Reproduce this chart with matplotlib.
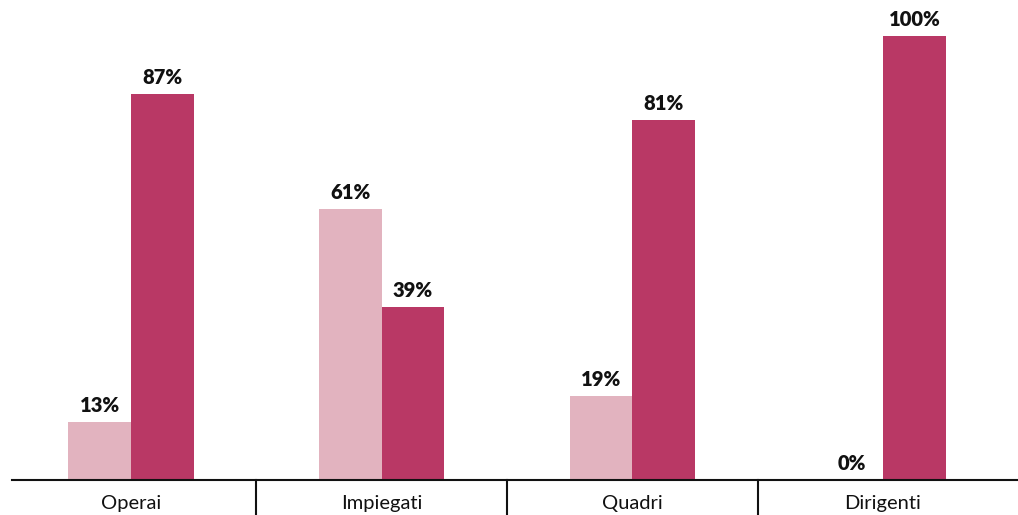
import matplotlib.pyplot as plt
import numpy as np

categories = ["Operai", "Impiegati", "Quadri", "Dirigenti"]
light_vals = [13, 61, 19, 0]
dark_vals = [87, 39, 81, 100]

LIGHT = "#e2b3bf"
DARK = "#b93865"
INK = "#111111"

plt.rcParams["font.family"] = ["Lato", "DejaVu Sans"]

W, H = 1018, 515
fig = plt.figure(figsize=(W / 100, H / 100), dpi=100)
ax = fig.add_axes([0, 35 / H, 1, 480 / H])

x = np.arange(len(categories))
bw = 0.25
ax.bar(x - bw / 2, light_vals, width=bw, color=LIGHT, zorder=2)
ax.bar(x + bw / 2, dark_vals, width=bw, color=DARK, zorder=2)

for xi, v in zip(x - bw / 2, light_vals):
    ax.text(xi, v + 1.6, f"{v}%", ha="center", va="bottom",
            fontsize=14.5, fontweight="heavy", color=INK)
for xi, v in zip(x + bw / 2, dark_vals):
    ax.text(xi, v + 1.6, f"{v}%", ha="center", va="bottom",
            fontsize=14.5, fontweight="heavy", color=INK)

px = 250.67
ax.set_xlim(-131 / px, (W - 131) / px)
ax.set_ylim(0, 480 / 4.44)

for s in ["top", "right", "left"]:
    ax.spines[s].set_visible(False)
ax.spines["bottom"].set_linewidth(1.5)
ax.spines["bottom"].set_color(INK)
ax.spines["bottom"].set_bounds((12 - 131) / px, (W - 131) / px)
ax.set_yticks([])
ax.set_xticks([])

# category separators under the axis
for sx in [0.5, 1.5, 2.5]:
    ax.plot([sx, sx], [0, -8], color=INK, lw=1.5, clip_on=False)

for xi, name in zip(x, categories):
    ax.text(xi, -5.4, name, ha="center", va="center", fontsize=14.5,
            fontweight="normal", color=INK, clip_on=False)

fig.savefig("out.png", dpi=100)
